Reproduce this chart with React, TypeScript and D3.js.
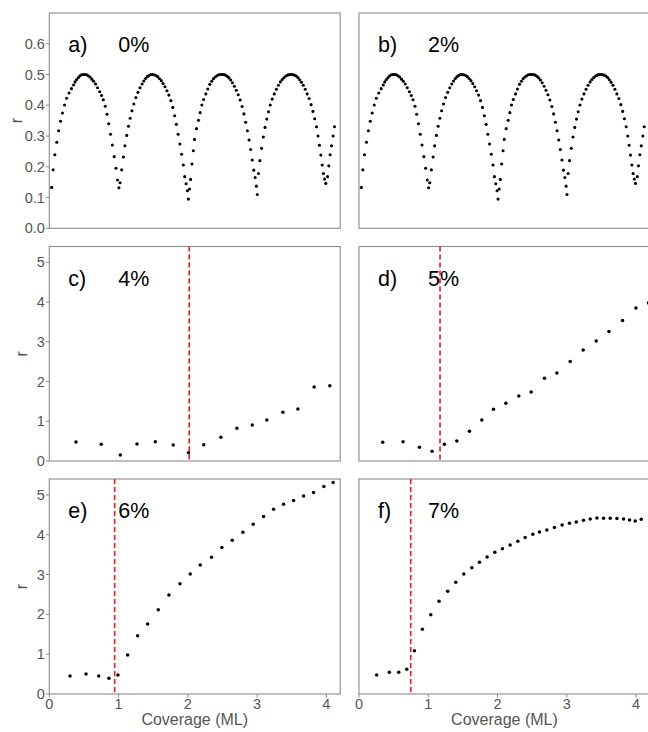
import React from "react";
import * as d3 from "d3";

// ---- data -------------------------------------------------------------
// a) 0% : layer-by-layer oscillation of r with coverage
const coverageA = [
  0.034, 0.055, 0.08, 0.108, 0.135, 0.163, 0.19, 0.22, 0.25, 0.285, 0.32, 0.35, 0.372, 0.395, 0.42, 0.443, 0.467, 0.491, 0.515,
  0.539, 0.563, 0.587, 0.614, 0.64, 0.668, 0.697, 0.728, 0.755, 0.78, 0.808, 0.833, 0.858, 0.884, 0.91, 0.937, 0.962, 0.985, 1.005,
  1.022, 1.045, 1.07, 1.092, 1.118, 1.143, 1.168, 1.193, 1.22, 1.25, 1.28, 1.31, 1.34, 1.365, 1.39, 1.415, 1.44, 1.465, 1.49, 1.515,
  1.54, 1.565, 1.59, 1.617, 1.643, 1.67, 1.698, 1.726, 1.755, 1.783, 1.81, 1.835, 1.86, 1.885, 1.91, 1.935, 1.955, 1.975, 1.993, 2.008,
  2.024, 2.04, 2.06, 2.08, 2.097, 2.125, 2.154, 2.178, 2.202, 2.228, 2.26, 2.288, 2.317, 2.345, 2.37, 2.395, 2.42, 2.445, 2.47, 2.495,
  2.52, 2.545, 2.57, 2.595, 2.62, 2.645, 2.672, 2.7, 2.728, 2.756, 2.784, 2.81, 2.835, 2.86, 2.884, 2.907, 2.93, 2.952, 2.972, 2.99, 3.003,
  3.02, 3.04, 3.065, 3.09, 3.115, 3.14, 3.165, 3.19, 3.218, 3.248, 3.278, 3.308, 3.337, 3.363, 3.39, 3.415, 3.44, 3.465, 3.49, 3.515,
  3.54, 3.565, 3.59, 3.615, 3.64, 3.667, 3.695, 3.723, 3.752, 3.78, 3.807, 3.832, 3.858, 3.88, 3.9, 3.92, 3.94, 3.958, 3.975, 3.992,
  4.018, 4.035, 4.055, 4.075, 4.098, 4.118,
];
const roughA = [
  0.133, 0.19, 0.239, 0.28, 0.317, 0.348, 0.375, 0.401, 0.423, 0.44, 0.454, 0.466, 0.476, 0.484, 0.49, 0.496, 0.499, 0.5, 0.5,
  0.499, 0.496, 0.492, 0.485, 0.478, 0.469, 0.457, 0.444, 0.432, 0.418, 0.397, 0.371, 0.34, 0.306, 0.271, 0.233, 0.195, 0.157, 0.132,
  0.148, 0.19, 0.232, 0.268, 0.302, 0.332, 0.358, 0.382, 0.404, 0.425, 0.442, 0.457, 0.469, 0.479, 0.487, 0.493, 0.497, 0.5, 0.5, 0.499,
  0.497, 0.493, 0.487, 0.48, 0.471, 0.46, 0.447, 0.433, 0.415, 0.393, 0.366, 0.338, 0.306, 0.274, 0.241, 0.206, 0.168, 0.145, 0.122, 0.095,
  0.128, 0.159, 0.209, 0.252, 0.289, 0.324, 0.351, 0.376, 0.401, 0.419, 0.437, 0.453, 0.468, 0.478, 0.486, 0.492, 0.496, 0.499, 0.5, 0.5,
  0.5, 0.498, 0.494, 0.489, 0.482, 0.473, 0.462, 0.449, 0.434, 0.417, 0.396, 0.372, 0.345, 0.317, 0.287, 0.256, 0.222, 0.189, 0.165, 0.137, 0.11,
  0.178, 0.22, 0.26, 0.297, 0.328, 0.355, 0.379, 0.401, 0.42, 0.437, 0.452, 0.465, 0.476, 0.484, 0.49, 0.495, 0.498, 0.5, 0.5, 0.5,
  0.498, 0.495, 0.49, 0.483, 0.475, 0.465, 0.452, 0.437, 0.422, 0.402, 0.38, 0.356, 0.33, 0.3, 0.27, 0.238, 0.206, 0.178, 0.16, 0.146,
  0.168, 0.203, 0.239, 0.268, 0.3, 0.33,
];

// b) 2% : oscillations persist unchanged
const coverageB = coverageA.slice();
const roughB = roughA.slice();

// c) 4%
const coverageC = [0.385, 0.75, 1.025, 1.266, 1.53, 1.79, 2.01, 2.23, 2.478, 2.709, 2.93, 3.14, 3.372, 3.589, 3.824, 4.05];
const roughC = [0.479, 0.42, 0.151, 0.428, 0.487, 0.403, 0.21, 0.41, 0.596, 0.823, 0.907, 1.033, 1.226, 1.31, 1.864, 1.897];

// d) 5%
const coverageD = [0.342, 0.636, 0.872, 1.055, 1.233, 1.412, 1.594, 1.773, 1.941, 2.12, 2.307, 2.486, 2.678, 2.857, 3.049, 3.237, 3.425, 3.608, 3.805, 3.998, 4.18];
const roughD = [0.47, 0.487, 0.344, 0.244, 0.42, 0.504, 0.747, 1.033, 1.302, 1.453, 1.637, 1.738, 2.083, 2.217, 2.502, 2.796, 3.023, 3.258, 3.535, 3.854, 3.98];

// e) 6%
const coverageE = [0.299, 0.53, 0.713, 0.861, 0.991, 1.131, 1.275, 1.42, 1.573, 1.727, 1.886, 2.035, 2.179, 2.343, 2.492, 2.641, 2.795, 2.944, 3.094, 3.238, 3.382, 3.527, 3.671, 3.815, 3.964, 4.098];
const roughE = [0.452, 0.503, 0.452, 0.394, 0.477, 0.98, 1.466, 1.759, 2.119, 2.487, 2.772, 3.015, 3.241, 3.434, 3.677, 3.861, 4.062, 4.263, 4.456, 4.64, 4.765, 4.857, 4.975, 5.058, 5.209, 5.309];

// f) 7%
const coverageF = [0.255, 0.438, 0.573, 0.689, 0.8, 0.915, 1.036, 1.156, 1.281, 1.397, 1.513, 1.628, 1.739, 1.85, 1.961, 2.071, 2.182, 2.293, 2.399, 2.51, 2.606, 2.712, 2.822, 2.933, 3.039, 3.136, 3.241, 3.338, 3.435, 3.531, 3.627, 3.724, 3.82, 3.906, 3.988, 4.075];
const roughF = [0.477, 0.545, 0.545, 0.62, 1.088, 1.625, 1.993, 2.328, 2.58, 2.806, 3.015, 3.174, 3.308, 3.442, 3.559, 3.651, 3.744, 3.836, 3.928, 4.012, 4.07, 4.12, 4.179, 4.246, 4.288, 4.322, 4.364, 4.397, 4.422, 4.414, 4.414, 4.405, 4.397, 4.372, 4.347, 4.389];

// panel captions and transition coverages (dashed markers)
const panelLetters = ["a)", "b)", "c)", "d)", "e)", "f)"];
const panelPercents = ["0%", "2%", "4%", "5%", "6%", "7%"];
const transitionCoverage = [null, null, 2.02, 1.17, 0.944, 0.747];

const xTicks = [0, 1, 2, 3, 4];
const yTicksTop = [0, 0.1, 0.2, 0.3, 0.4, 0.5, 0.6];
const yTicksLower = [0, 1, 2, 3, 4, 5];

// ---- layout -----------------------------------------------------------
const W = 648;
const H = 732;
const colLeft = [49.3, 359];
const panelW = 290.9;
const rows = [
  { top: 13, bottom: 228.3 },
  { top: 246.5, bottom: 461 },
  { top: 479, bottom: 694 },
];

const FONT = "'Liberation Sans', Arial, Helvetica, sans-serif";
const AXIS_GREY = "#8a8a8a";
const TEXT_GREY = "#555555";

type PanelSpec = {
  xs: number[];
  ys: number[];
  col: number;
  row: number;
  idx: number;
};

const panels: PanelSpec[] = [
  { xs: coverageA, ys: roughA, col: 0, row: 0, idx: 0 },
  { xs: coverageB, ys: roughB, col: 1, row: 0, idx: 1 },
  { xs: coverageC, ys: roughC, col: 0, row: 1, idx: 2 },
  { xs: coverageD, ys: roughD, col: 1, row: 1, idx: 3 },
  { xs: coverageE, ys: roughE, col: 0, row: 2, idx: 4 },
  { xs: coverageF, ys: roughF, col: 1, row: 2, idx: 5 },
];

function Panel({ p }: { p: PanelSpec }) {
  const left = colLeft[p.col];
  const { top, bottom } = rows[p.row];
  const x = d3.scaleLinear().domain([0, 4.2]).range([left, left + panelW]);
  const isTop = p.row === 0;
  const y = d3
    .scaleLinear()
    .domain([0, isTop ? 0.7 : 5.4])
    .range([bottom, top]);
  const yTicks = isTop ? yTicksTop : yTicksLower;
  const fmt = isTop ? d3.format(".1f") : d3.format("d");
  const showY = p.col === 0;
  const showX = p.row === 2;
  const vline = transitionCoverage[p.idx];
  const clipId = `clip-${p.idx}`;

  return (
    <g>
      <defs>
        <clipPath id={clipId}>
          <rect x={left} y={top} width={panelW} height={bottom - top} />
        </clipPath>
      </defs>
      <rect x={left} y={top} width={panelW} height={bottom - top} fill="#fff" stroke={AXIS_GREY} strokeWidth={1.1} />
      {showY &&
        yTicks.map((t) => (
          <g key={t}>
            <line x1={left - 3.5} x2={left} y1={y(t)} y2={y(t)} stroke={AXIS_GREY} strokeWidth={1} />
            <text x={left - 4.5} y={y(t)} dy="0.35em" textAnchor="end" fontSize={14.5} fill={TEXT_GREY} fontFamily={FONT}>
              {fmt(t)}
            </text>
          </g>
        ))}
      {showY && (
        <text
          transform={`translate(${isTop ? 22 : 26.5},${(top + bottom) / 2}) rotate(-90)`}
          textAnchor="middle"
          fontSize={16}
          fill={TEXT_GREY}
          fontFamily={FONT}
        >
          r
        </text>
      )}
      {showX &&
        xTicks.map((t) => (
          <g key={t}>
            <line x1={x(t)} x2={x(t)} y1={bottom} y2={bottom + 3.5} stroke={AXIS_GREY} strokeWidth={1} />
            <text x={x(t)} y={bottom + 15} textAnchor="middle" fontSize={14.5} fill={TEXT_GREY} fontFamily={FONT}>
              {t}
            </text>
          </g>
        ))}
      {showX && (
        <text x={left + panelW / 2} y={725} textAnchor="middle" fontSize={16} fill={TEXT_GREY} fontFamily={FONT}>
          Coverage (ML)
        </text>
      )}
      <g clipPath={`url(#${clipId})`}>
        {vline !== null && (
          <line
            x1={x(vline)}
            x2={x(vline)}
            y1={top}
            y2={bottom}
            stroke="#e8161e"
            strokeWidth={1.6}
            strokeDasharray="5,3"
          />
        )}
        {p.xs.map((cx, i) => (
          <circle key={i} cx={x(cx)} cy={y(p.ys[i])} r={isTop ? 1.55 : 1.75} fill="#000" />
        ))}
      </g>
      <text x={left + 19} y={top + 39} fontSize={21.5} fill="#000" fontFamily={FONT}>
        {panelLetters[p.idx]}
      </text>
      <text x={left + 69} y={top + 39} fontSize={21.5} fill="#000" fontFamily={FONT}>
        {panelPercents[p.idx]}
      </text>
    </g>
  );
}

export default function App() {
  return (
    <svg
      width={W}
      height={H}
      viewBox={`0 0 ${W} ${H}`}
      style={{ position: "absolute", left: 0, top: 0, display: "block", background: "#fff" }}
    >
      <rect x={0} y={0} width={W} height={H} fill="#fff" />
      {panels.map((p) => (
        <Panel key={p.idx} p={p} />
      ))}
    </svg>
  );
}
